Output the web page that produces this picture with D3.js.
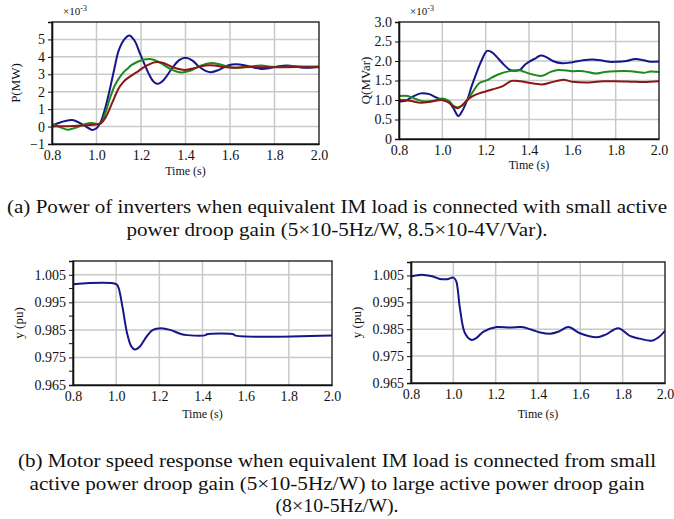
<!DOCTYPE html>
<html>
<head>
<meta charset="utf-8">
<script src="https://cdn.jsdelivr.net/npm/d3@7/dist/d3.min.js"></script>
<style>
  html, body { margin: 0; padding: 0; background: #fff; }
  svg { display: block; font-family: "Liberation Serif", "Times New Roman", serif; }
</style>
</head>
<body>
<svg id="fig" width="674" height="519"></svg>
<script>
// ---- Active power P (x10^-3 MW) ----
const pBlueT = [0.80,0.84,0.89,0.94,0.98,1.00,1.02,1.04,1.062,1.08,1.10,1.125,1.147,1.17,1.195,1.215,1.234,1.255,1.272,1.30,1.34,1.37,1.40,1.43,1.46,1.49,1.515,1.55,1.59,1.63,1.67,1.71,1.74,1.78,1.82,1.855,1.89,1.92,1.95,1.98,2.00];
const pBlueV = [0.05,0.25,0.38,0.10,-0.19,-0.10,0.30,1.10,2.26,3.30,4.37,5.00,5.23,4.95,4.20,3.60,3.05,2.60,2.45,2.65,3.35,3.80,3.95,3.80,3.45,3.20,3.12,3.25,3.50,3.57,3.50,3.38,3.31,3.36,3.46,3.50,3.46,3.39,3.37,3.41,3.43];
const pGreenT = [0.80,0.83,0.87,0.91,0.95,0.98,1.00,1.02,1.04,1.062,1.08,1.10,1.12,1.137,1.16,1.19,1.215,1.24,1.265,1.30,1.34,1.38,1.42,1.46,1.51,1.56,1.60,1.64,1.69,1.74,1.79,1.84,1.90,1.95,2.00];
const pGreenV = [0.15,0.00,-0.18,-0.05,0.15,0.20,0.15,0.20,0.80,1.68,2.30,2.75,3.10,3.30,3.55,3.75,3.85,3.88,3.80,3.55,3.25,3.10,3.20,3.45,3.64,3.55,3.40,3.37,3.45,3.50,3.43,3.42,3.46,3.44,3.45];
const pRedT = [0.80,0.85,0.90,0.95,1.00,1.02,1.04,1.062,1.08,1.10,1.12,1.137,1.16,1.19,1.21,1.234,1.255,1.27,1.30,1.34,1.37,1.40,1.44,1.49,1.53,1.57,1.62,1.70,1.80,1.90,2.00];
const pRedV = [0.00,0.02,0.03,0.08,0.12,0.18,0.50,1.10,1.65,2.20,2.55,2.75,2.95,3.20,3.38,3.55,3.67,3.71,3.65,3.42,3.30,3.25,3.35,3.50,3.50,3.42,3.38,3.42,3.40,3.42,3.40];

// ---- Reactive power Q (x10^-3 MVar) ----
const qBlueT = [0.80,0.83,0.86,0.90,0.94,0.97,1.00,1.03,1.05,1.074,1.09,1.115,1.135,1.154,1.18,1.207,1.23,1.26,1.285,1.31,1.33,1.36,1.38,1.40,1.43,1.454,1.48,1.51,1.554,1.60,1.65,1.692,1.73,1.77,1.80,1.85,1.89,1.93,1.96,2.00];
const qBlueV = [0.96,0.98,1.08,1.17,1.15,1.07,1.00,0.95,0.80,0.59,0.70,1.00,1.35,1.64,2.00,2.26,2.22,2.05,1.90,1.78,1.75,1.78,1.90,1.98,2.07,2.14,2.10,2.00,1.94,1.97,2.02,2.04,2.02,1.98,1.98,2.00,2.05,2.02,1.98,1.99];
const qGreenT = [0.80,0.84,0.88,0.92,0.96,1.00,1.03,1.05,1.07,1.09,1.115,1.14,1.17,1.207,1.23,1.26,1.31,1.354,1.38,1.40,1.46,1.50,1.537,1.60,1.65,1.707,1.75,1.80,1.87,1.93,1.96,2.00];
const qGreenV = [1.10,1.10,1.02,0.96,0.98,1.04,0.98,0.86,0.81,0.86,1.00,1.20,1.43,1.51,1.58,1.66,1.74,1.76,1.72,1.68,1.62,1.72,1.77,1.74,1.74,1.68,1.72,1.74,1.74,1.70,1.73,1.72];
const qRedT = [0.80,0.85,0.90,0.95,1.00,1.03,1.05,1.07,1.09,1.115,1.14,1.17,1.20,1.23,1.277,1.32,1.36,1.40,1.46,1.50,1.537,1.56,1.60,1.677,1.74,1.80,1.87,1.93,2.00];
const qRedV = [1.00,0.98,0.93,0.96,1.00,0.93,0.84,0.79,0.85,1.00,1.10,1.17,1.22,1.27,1.35,1.49,1.48,1.44,1.40,1.45,1.50,1.52,1.47,1.45,1.48,1.48,1.47,1.46,1.48];

// ---- Motor speed (pu) ----
const wSmallT = [0.80,1.00,1.01,1.03,1.05,1.07,1.087,1.11,1.14,1.17,1.208,1.25,1.30,1.33,1.415,1.42,1.545,1.55,2.00];
const wSmallV = [1.0016,1.0016,1.0005,0.9930,0.9840,0.9790,0.9779,0.9790,0.9825,0.9850,0.9856,0.9850,0.9835,0.9831,0.9831,0.9834,0.9834,0.9830,0.9830];
const wLargeT = [0.80,0.85,0.90,0.937,0.97,1.00,1.013,1.031,1.055,1.087,1.11,1.141,1.205,1.268,1.323,1.37,1.41,1.457,1.50,1.543,1.598,1.677,1.72,1.779,1.834,1.88,1.937,1.97,2.00];
const wLargeV = [1.0046,1.0053,1.0047,1.0037,1.0036,1.0042,1.0030,0.9929,0.9835,0.9810,0.9818,0.9840,0.9858,0.9856,0.9858,0.9848,0.9838,0.9833,0.9842,0.9858,0.9835,0.9820,0.9830,0.9854,0.9825,0.9815,0.9807,0.9820,0.9844];

// ---- Axis ticks ----
const timeTicks = [0.8, 1.0, 1.2, 1.4, 1.6, 1.8, 2.0];
const pTicks = [-1, 0, 1, 2, 3, 4, 5];
const qTicks = [0, 0.5, 1.0, 1.5, 2.0, 2.5, 3.0];
const wTicks = [0.965, 0.975, 0.985, 0.995, 1.005];
const wMinorTicks = [0.970, 0.980, 0.990, 1.000];

// ---- Captions ----
const captionA = ["(a) Power of inverters when equivalent IM load is connected with small active",
                  "power droop gain (5×10-5Hz/W, 8.5×10-4V/Var)."];
const captionB = ["(b) Motor speed response when equivalent IM load is connected from small",
                  "active power droop gain (5×10-5Hz/W) to large active power droop gain",
                  "(8×10-5Hz/W)."];
// set widths of the caption lines
const captionAWidths = [660, 421];
const captionBWidths = [638, 615, 123];

const COLORS = { blue: "#16168a", green: "#1c8a1c", red: "#8a1616" };
const zip = (t, v) => t.map((d, i) => [d, v[i]]);

const svg = d3.select("#fig");

function drawPanel(cfg) {
  const x = d3.scaleLinear().domain([0.8, 2.0]).range([cfg.left, cfg.right]);
  const y = d3.scaleLinear().domain(cfg.yDomain).range([cfg.bottom, cfg.top]);
  const g = svg.append("g");

  // grid
  g.append("g").selectAll("line.v").data(timeTicks.slice(1, -1)).join("line")
    .attr("x1", d => x(d)).attr("x2", d => x(d))
    .attr("y1", cfg.top).attr("y2", cfg.bottom)
    .attr("stroke", "#c9c9c9").attr("stroke-width", 1.5);
  g.append("g").selectAll("line.h").data(cfg.grid).join("line")
    .attr("x1", cfg.left).attr("x2", cfg.right)
    .attr("y1", d => y(d)).attr("y2", d => y(d))
    .attr("stroke", "#c9c9c9").attr("stroke-width", 1.5);

  // series
  const line = d3.line().x(d => x(d[0])).y(d => y(d[1])).curve(d3.curveCatmullRom.alpha(0.5));
  const clipId = "clip" + cfg.id;
  g.append("clipPath").attr("id", clipId).append("rect")
    .attr("x", cfg.left).attr("y", cfg.top)
    .attr("width", cfg.right - cfg.left).attr("height", cfg.bottom - cfg.top);
  const sg = g.append("g").attr("clip-path", `url(#${clipId})`);
  cfg.series.forEach(s => {
    sg.append("path").datum(s.data).attr("d", line)
      .attr("fill", "none").attr("stroke", s.color).attr("stroke-width", 2)
      .attr("stroke-linejoin", "round");
  });

  // frame
  g.append("rect").attr("x", cfg.left).attr("y", cfg.top)
    .attr("width", cfg.right - cfg.left).attr("height", cfg.bottom - cfg.top)
    .attr("fill", "none").attr("stroke", "#111").attr("stroke-width", 1.3);

  // y axis
  const ya = d3.axisLeft(y).tickValues(cfg.yTicks).tickSize(4).tickPadding(3)
    .tickFormat(cfg.yFormat);
  const yg = g.append("g").attr("transform", `translate(${cfg.left},0)`).call(ya);
  if (cfg.minor) {
    yg.selectAll("line.minor").data(cfg.minor).join("line").attr("class", "minor")
      .attr("x1", -4).attr("x2", 0).attr("y1", d => y(d)).attr("y2", d => y(d))
      .attr("stroke", "#111");
  }

  // x axis
  const xa = d3.axisBottom(x).tickValues(timeTicks).tickSize(0).tickPadding(6)
    .tickFormat(d3.format(".1f"));
  const xg = g.append("g").attr("transform", `translate(0,${cfg.bottom})`).call(xa);

  [yg, xg].forEach(a => {
    a.attr("font-family", null);
    a.select(".domain").attr("stroke", "#111").attr("stroke-width", 1.6);
    a.selectAll(".tick line").attr("stroke", "#111");
    a.selectAll("text").attr("font-family", "'Liberation Serif', serif")
      .attr("font-size", 14).attr("fill", "#111");
  });

  g.append("text").attr("x", (cfg.left + cfg.right) / 2).attr("y", cfg.xTitleY)
    .attr("text-anchor", "middle").attr("font-size", 12).attr("fill", "#111")
    .text("Time (s)");
  g.append("text")
    .attr("transform", `translate(${cfg.yTitleX},${(cfg.top + cfg.bottom) / 2}) rotate(-90)`)
    .attr("text-anchor", "middle").attr("font-size", 13).attr("fill", "#111")
    .text(cfg.yTitle);

  if (cfg.scaleNote) {
    const t = g.append("text").attr("x", cfg.left + 11).attr("y", 15)
      .attr("font-size", 11).attr("fill", "#111");
    t.append("tspan").text("×10");
    t.append("tspan").attr("dy", -4).attr("font-size", 8).text("-3");
  }
}

drawPanel({
  id: "p", left: 52, right: 319, top: 22, bottom: 144,
  yDomain: [-1, 6], yTicks: pTicks, grid: [0, 1, 2, 3, 4, 5],
  yFormat: d3.format("d"), yTitle: "P(MW)", yTitleX: 20, xTitleY: 175,
  scaleNote: true,
  series: [
    { color: COLORS.blue, data: zip(pBlueT, pBlueV) },
    { color: COLORS.green, data: zip(pGreenT, pGreenV) },
    { color: COLORS.red, data: zip(pRedT, pRedV) }
  ]
});

drawPanel({
  id: "q", left: 399, right: 659, top: 22, bottom: 139,
  yDomain: [0, 3], yTicks: qTicks, grid: [0.5, 1.0, 1.5, 2.0, 2.5],
  yFormat: d => d === 0 ? "0" : d3.format(".1f")(d),
  yTitle: "Q(MVar)", yTitleX: 370, xTitleY: 169,
  scaleNote: true,
  series: [
    { color: COLORS.blue, data: zip(qBlueT, qBlueV) },
    { color: COLORS.green, data: zip(qGreenT, qGreenV) },
    { color: COLORS.red, data: zip(qRedT, qRedV) }
  ]
});

drawPanel({
  id: "w1", left: 73, right: 332, top: 261, bottom: 385,
  yDomain: [0.965, 1.010], yTicks: wTicks, grid: wTicks.slice(1), minor: wMinorTicks,
  yFormat: d3.format(".3f"), yTitle: "y (pu)", yTitleX: 23, xTitleY: 418,
  series: [{ color: COLORS.blue, data: zip(wSmallT, wSmallV) }]
});

drawPanel({
  id: "w2", left: 411, right: 665, top: 262, bottom: 383,
  yDomain: [0.965, 1.010], yTicks: wTicks, grid: wTicks.slice(1), minor: wMinorTicks,
  yFormat: d3.format(".3f"), yTitle: "y (pu)", yTitleX: 361, xTitleY: 418,
  series: [{ color: COLORS.blue, data: zip(wLargeT, wLargeV) }]
});

function caption(lines, widths, y0) {
  svg.append("g").selectAll("text").data(lines).join("text")
    .attr("x", 337).attr("y", (d, i) => y0 + i * 22.5)
    .attr("text-anchor", "middle").attr("font-size", 19.5).attr("fill", "#111")
    .attr("textLength", (d, i) => widths[i]).attr("lengthAdjust", "spacingAndGlyphs")
    .text(d => d);
}
caption(captionA, captionAWidths, 213);
caption(captionB, captionBWidths, 467);
</script>
</body>
</html>
